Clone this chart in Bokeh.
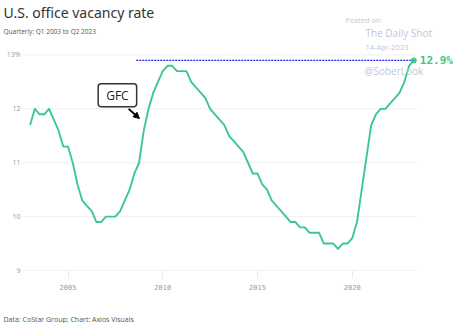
from bokeh.plotting import figure
from bokeh.models import Range1d, FixedTicker, Label, Arrow, NormalHead, Title
from bokeh.embed import file_html
from bokeh.resources import INLINE

# ---- data ----
start_year = 2003
vacancy = [
    11.7, 12.0, 11.9, 11.9,   # 2003
    12.0, 11.8, 11.6, 11.3,   # 2004
    11.3, 11.0, 10.6, 10.3,   # 2005
    10.2, 10.1, 9.9, 9.9,     # 2006
    10.0, 10.0, 10.0, 10.1,   # 2007
    10.3, 10.5, 10.8, 11.0,   # 2008
    11.6, 12.0, 12.3, 12.5,   # 2009
    12.7, 12.8, 12.8, 12.7,   # 2010
    12.7, 12.7, 12.5, 12.4,   # 2011
    12.3, 12.2, 12.0, 11.9,   # 2012
    11.8, 11.7, 11.5, 11.4,   # 2013
    11.3, 11.2, 11.0, 10.8,   # 2014
    10.8, 10.6, 10.5, 10.3,   # 2015
    10.2, 10.1, 10.0, 9.9,    # 2016
    9.9, 9.8, 9.8, 9.7,       # 2017
    9.7, 9.7, 9.5, 9.5,       # 2018
    9.5, 9.4, 9.5, 9.5,       # 2019
    9.6, 9.9, 10.5, 11.1,     # 2020
    11.7, 11.9, 12.0, 12.0,   # 2021
    12.1, 12.2, 12.3, 12.5,   # 2022
    12.8, 12.9,               # 2023
]
years = [start_year + i / 4 for i in range(len(vacancy))]
y_ticks = [9, 10, 11, 12, 13]
y_tick_labels = {13: "13%"}
x_ticks = [2005, 2010, 2015, 2020]
latest = vacancy[-1]
latest_label = "12.9%"
gfc_label = "GFC"
footer = "Data: CoStar Group; Chart: Axios Visuals"

# annotation geometry (not data)
grid_x0, grid_x1 = 2002.6, 2023.39
ref_line_start = 2008.6

GREEN = "#3cc88c"
GREY_TXT = "#9a9a9a"
WM = "#c4c4da"

p = figure(width=453, height=323, output_backend="svg", toolbar_location=None,
           x_range=Range1d(2001.596, 2025.343), y_range=Range1d(9, 14.0116),
           min_border_left=3, min_border_right=0, min_border_top=0,
           min_border_bottom=53)
p.title.visible = False
p.outline_line_color = None
p.background_fill_color = "white"
p.border_fill_color = "white"

# axes
xax = p.xaxis[0]
xax.ticker = FixedTicker(ticks=x_ticks)
xax.minor_tick_line_color = None
xax.axis_line_color = None
xax.major_tick_line_color = "#e8e8e8"
xax.major_tick_in = 0
xax.major_tick_out = 8
xax.major_label_standoff = 5
xax.major_label_text_font = "DejaVu Sans Mono"
xax.major_label_text_font_size = "7px"
xax.major_label_text_color = GREY_TXT
# blank axis label used only as spacing so the footer sits near the bottom
xax.axis_label = " "
xax.axis_label_standoff = 8
xax.axis_label_text_font = "Open Sans"
xax.axis_label_text_font_size = "7px"

p.yaxis.ticker = FixedTicker(ticks=y_ticks)
p.yaxis.major_label_overrides = y_tick_labels
p.yaxis.axis_line_color = None
p.yaxis.major_tick_line_color = None
p.yaxis.minor_tick_line_color = None
p.yaxis.major_tick_in = 0
p.yaxis.major_tick_out = 0
p.yaxis.major_label_standoff = -17
p.yaxis.major_label_text_font = "Open Sans"
p.yaxis.major_label_text_font_size = "7px"
p.yaxis.major_label_text_color = GREY_TXT

p.grid.grid_line_color = None

# horizontal gridlines at tick values
p.segment(x0=grid_x0, y0=y_ticks, x1=grid_x1, y1=y_ticks,
          line_color=["#e8e8e8"] + ["#f0f0f0"] * (len(y_ticks) - 1), line_width=1)

# reference dotted line at the latest value
p.segment(x0=[ref_line_start], y0=[latest], x1=[years[-1] - 0.1], y1=[latest],
          line_color="#2a2ae6", line_width=1.3, line_dash="2 1")

# main series
p.line(years, vacancy, line_color=GREEN, line_width=1.9, line_join="round")
p.scatter([years[-1]], [latest], size=5, color=GREEN)

p.add_layout(Label(x=years[-1], y=latest, text=latest_label, x_offset=6,
                   text_baseline="middle", text_font="DejaVu Sans Mono",
                   text_font_style="bold", text_font_size="11px", text_color=GREEN))

# GFC annotation
p.add_layout(Label(x=2008.2, y=12.0, text=gfc_label, text_align="right",
                   text_baseline="bottom", x_offset=8, y_offset=2,
                   text_font="Open Sans", text_font_size="12px", text_color="#222222",
                   border_line_color="#333333", border_line_width=1.5,
                   background_fill_color="white", padding=(8, 3), border_radius=3))
p.add_layout(Arrow(x_start=2008.2, y_start=12.0, x_end=2008.77, y_end=11.82,
                   line_color="black", line_width=2,
                   end=NormalHead(size=6, fill_color="black", line_color="black")))

# texts (screen units relative to the frame)
def txt(x, y, t, size, color, font="Open Sans", **kw):
    p.add_layout(Label(x=x, y=y, x_units="screen", y_units="screen", text=t,
                       text_font=font, text_font_size=size, text_color=color,
                       text_baseline="middle", **kw))

txt(0, 258, "U.S. office vacancy rate", "14px", "#333333", font="Noto Sans")
txt(0, 239, "Quarterly: Q1 2003 to Q2 2023", "6.5px", "#555555")
txt(342, 251, "Posted on", "7.5px", WM)
txt(362, 238, "The Daily Shot", "10px", WM)
txt(362, 224, "14-Apr-2023", "7.5px", WM)
txt(361, 200, "@SoberLook", "10px", WM)

p.add_layout(Title(text=footer, align="left", text_font="Open Sans",
                   text_font_size="7px", text_font_style="normal",
                   text_color="#555555", standoff=0), "below")

open("out.html", "w").write(file_html(p, INLINE))
